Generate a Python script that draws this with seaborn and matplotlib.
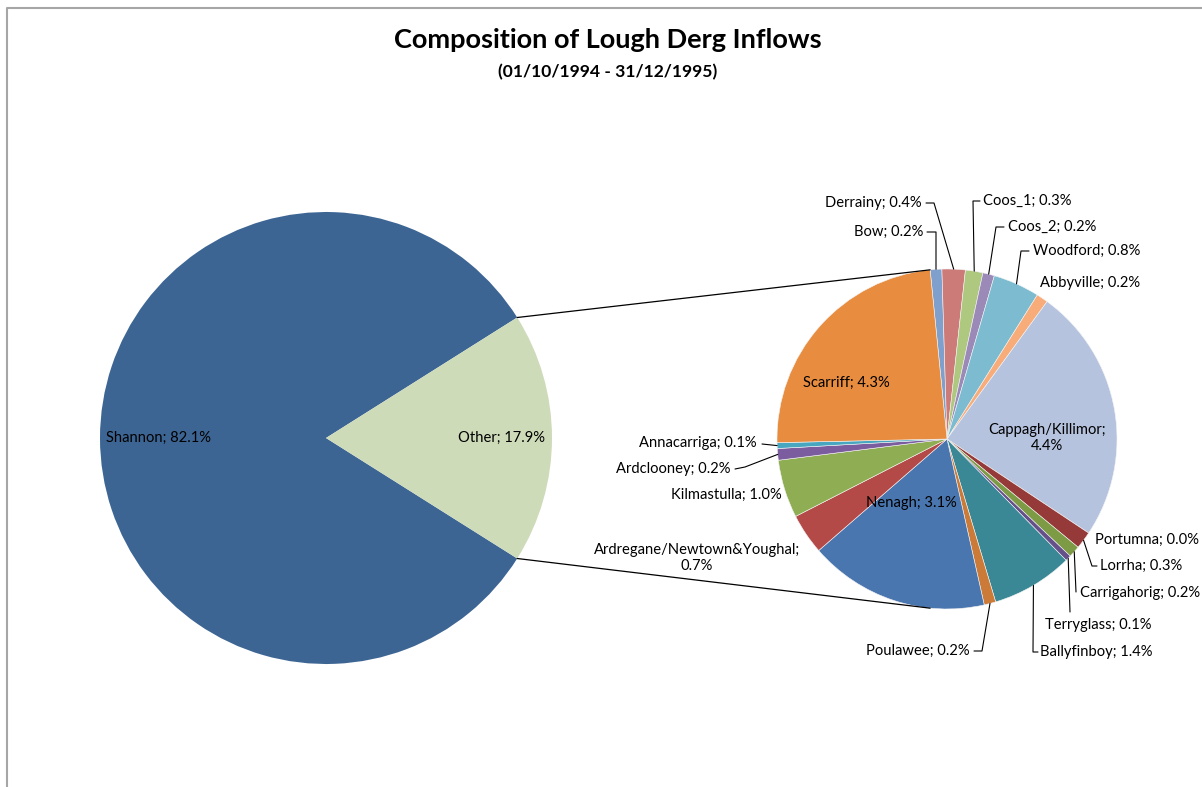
import numpy as np
import matplotlib
matplotlib.use("Agg")
import matplotlib.pyplot as plt
import seaborn as sns

main_labels = ["Shannon", "Other"]
main_values = [82.1, 17.9]
main_colors = ["#3D6594", "#CEDBB9"]

sub_labels = ["Bow", "Derrainy", "Coos_1", "Coos_2", "Woodford", "Abbyville",
              "Cappagh/Killimor", "Portumna", "Lorrha", "Carrigahorig", "Terryglass",
              "Ballyfinboy", "Poulawee", "Nenagh", "Ardregane/Newtown&Youghal",
              "Kilmastulla", "Ardclooney", "Annacarriga", "Scarriff"]
sub_values = [0.2, 0.4, 0.3, 0.2, 0.8, 0.2, 4.4, 0.0, 0.3, 0.2, 0.1,
              1.4, 0.2, 3.1, 0.7, 1.0, 0.2, 0.1, 4.3]
sub_colors = ["#7F9FCC", "#CC7B79", "#AFC87F", "#9B89B8", "#7DBCD0", "#F8AC7A",
              "#B5C3DE", "#953A38", "#953A38", "#7D9A44", "#65508A",
              "#3A8896", "#CB7A38", "#4A76B0", "#B44A48",
              "#8FAE53", "#7B5C9F", "#47A6C0", "#E88D40"]

W, H = 1202, 787
sns.set_theme(style="white")
plt.rcParams["font.family"] = ["Lato", "DejaVu Sans"]
plt.rcParams["text.color"] = "black"

fig = plt.figure(figsize=(W / 100, H / 100), dpi=100)
ax = fig.add_axes([0, 0, 1, 1])


def py(y):
    return H - y


# pie principal
c1, r1 = (326, py(438)), 226
start1 = main_values[1] / 2 * 3.6
ax.pie(main_values, center=c1, radius=r1, startangle=start1, colors=main_colors,
       wedgeprops=dict(linewidth=0), frame=True)

# pie secundario
c2, r2 = (947, py(439)), 170
start2 = 95.7
wedges, _ = ax.pie(sub_values, center=c2, radius=r2, startangle=start2, counterclock=False,
                   colors=sub_colors, wedgeprops=dict(linewidth=0.4, edgecolor="#F4F4F4"),
                   frame=True)
ax.set_xlim(0, W)
ax.set_ylim(0, H)
ax.set_aspect("equal")
ax.axis("off")

# lineas de conexion
a = np.deg2rad(start1)
b = np.deg2rad(start2)
for s in (1, -1):
    p0 = (c1[0] + r1 * np.cos(a), c1[1] + s * r1 * np.sin(a))
    p1 = (c2[0] + r2 * np.cos(b), c2[1] + s * r2 * np.sin(b))
    ax.plot([p0[0], p1[0]], [p0[1], p1[1]], color="black", lw=0.9)

fs = 10.6
ax.text(106, py(438), f"{main_labels[0]}; {main_values[0]:.1f}%", fontsize=fs, va="center", ha="left")
ax.text(501, py(438), f"{main_labels[1]}; {main_values[1]:.1f}%", fontsize=fs, va="center", ha="center")

# posicion de etiquetas: x, y, ha, puntos del conector
layout = {
    "Bow": (923, 232, "right", [(936, 232), (927, 232)]),
    "Derrainy": (922, 203, "right", [(934, 203), (926, 203)]),
    "Coos_1": (983, 201, "left", [(973, 201), (980, 201)]),
    "Coos_2": (1008, 227, "left", [(996, 227), (1004, 227)]),
    "Woodford": (1033, 251, "left", [(1021, 251), (1029, 251)]),
    "Abbyville": (1040, 283, "left", None),
    "Cappagh/Killimor": (1047, 438, "center", "in"),
    "Portumna": (1095, 540, "left", None),
    "Lorrha": (1100, 566, "left", [(1092, 566), (1097, 566)]),
    "Carrigahorig": (1080, 593, "left", [(1076, 592)]),
    "Terryglass": (1045, 625, "left", [(1070, 612)]),
    "Ballyfinboy": (1040, 652, "left", [(1033, 652), (1038, 652)]),
    "Poulawee": (970, 651, "right", [(982, 651), (974, 651)]),
    "Nenagh": (911, 503, "center", "in"),
    "Ardregane/Newtown&Youghal": (697, 558, "center", None),
    "Kilmastulla": (782, 495, "right", None),
    "Ardclooney": (730, 469, "right", [(745, 467), (735, 469)]),
    "Annacarriga": (757, 443, "right", [(762, 444)]),
    "Scarriff": (846, 383, "center", "in"),
}

for w, name, val in zip(wedges, sub_labels, sub_values):
    x, y, ha, path = layout[name]
    txt = f"{name}; {val:.1f}%"
    if name in ("Cappagh/Killimor", "Ardregane/Newtown&Youghal"):
        txt = f"{name};\n{val:.1f}%"
    ax.text(x, py(y), txt, fontsize=fs, ha=ha, va="center", linespacing=1.2,
            multialignment="center")
    if isinstance(path, list):
        mid = np.deg2rad((w.theta1 + w.theta2) / 2)
        pts = [(c2[0] + r2 * np.cos(mid), c2[1] + r2 * np.sin(mid))]
        pts += [(px, py(pyy)) for px, pyy in path]
        xs, ys = zip(*pts)
        ax.plot(xs, ys, color="black", lw=0.8)

fig.text(608 / W, 1 - 40 / H, "Composition of Lough Derg Inflows", fontsize=19.5,
         fontweight="bold", ha="center", va="center")
fig.text(608 / W, 1 - 72 / H, "(01/10/1994 - 31/12/1995)", fontsize=12.6,
         fontweight="bold", ha="center", va="center")

# borde del area del grafico
ax.plot([7, 7, W], [0, py(8), py(8)], color="#A6A6A6", lw=1.5)

fig.savefig("out.png", dpi=100)
